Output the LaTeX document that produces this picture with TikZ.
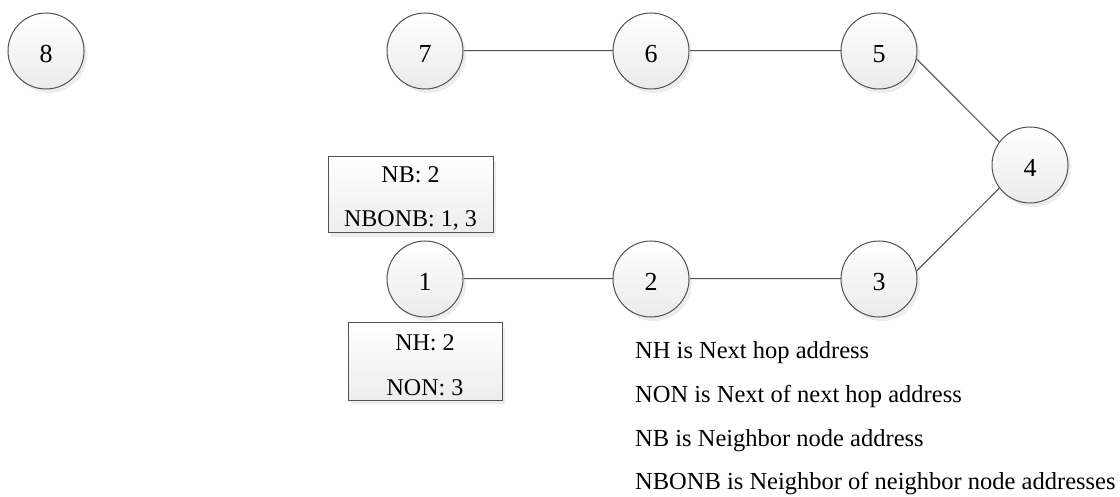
\documentclass[tikz,border=0pt]{standalone}
\usepackage{fontspec}
\setmainfont{Liberation Serif}
\usetikzlibrary{shadows,backgrounds}
% station numbers sit a little below the centre of their circle
\newcommand{\stnum}[1]{\raisebox{-3pt}[\height][0pt]{#1}}
\begin{document}
\begin{tikzpicture}[x=1pt,y=-1pt,
  station/.style={circle, draw=black!68, line width=1pt, minimum size=76pt,
    inner sep=0pt, top color=white, bottom color=black!8,
    drop shadow={opacity=0.14, shadow xshift=3pt, shadow yshift=-4pt},
    font=\fontsize{26}{30}\selectfont},
  infobox/.style={draw=black!68, line width=1pt, inner sep=0pt,
    top color=white, bottom color=black!7,
    drop shadow={opacity=0.14, shadow xshift=3pt, shadow yshift=-4pt}},
  boxline/.style={anchor=base, inner sep=0pt, font=\fontsize{24}{28}\selectfont},
  legend/.style={anchor=base west, inner sep=0pt, font=\fontsize{24.5}{28}\selectfont},
  link/.style={draw=black!68, line width=1pt},
  linkshade/.style={draw=black!9, line width=1.6pt, yshift=-4pt}]

\useasboundingbox (0,0) rectangle (1120,497);

% stations
\node[station] (n8) at (46,51) {\stnum{8}};
\node[station] (n7) at (425,51) {\stnum{7}};
\node[station] (n6) at (651,51) {\stnum{6}};
\node[station] (n5) at (879,51) {\stnum{5}};
\node[station] (n4) at (1030,165) {\stnum{4}};
\node[station] (n1) at (425,279) {\stnum{1}};
\node[station] (n2) at (651,279) {\stnum{2}};
\node[station] (n3) at (879,279) {\stnum{3}};

% links with their faint shadow
\begin{scope}[on background layer]
  \foreach \a/\b in {n7/n6, n6/n5, n1/n2, n2/n3}
    \draw[linkshade] (\a) -- (\b);
  \draw[linkshade] (n5.-12) -- (n4.143);
  \draw[linkshade] (n3.12) -- (n4.217);
  \foreach \a/\b in {n7/n6, n6/n5, n1/n2, n2/n3}
    \draw[link] (\a) -- (\b);
  \draw[link] (n5.-12) -- (n4.143);
  \draw[link] (n3.12) -- (n4.217);
\end{scope}

% table of node 1: neighbours
\node[infobox, minimum width=165pt, minimum height=76pt] (nbbox) at (410.5,195) {};
\node[boxline] (nbA) at (410.5,183) {NB: 2};
\node[boxline] (nbB) at (410.5,227) {NBONB: 1, 3};

% table of node 1: next hops
\node[infobox, minimum width=154pt, minimum height=77pt] (nhbox) at (425,361.5) {};
\node[boxline] (nhA) at (425,351) {NH: 2};
\node[boxline] (nhB) at (425,395) {NON: 3};

% legend
\node[legend] (lg1) at (635,358) {NH is Next hop address};
\node[legend] (lg2) at (635,402) {NON is Next of next hop address};
\node[legend] (lg3) at (635,446) {NB is Neighbor node address};
\node[legend] (lg4) at (635,489) {NBONB is Neighbor of neighbor node addresses};
\end{tikzpicture}
\end{document}
